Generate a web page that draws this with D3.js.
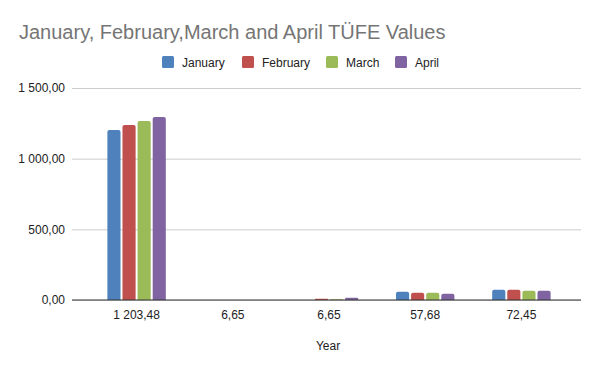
<!DOCTYPE html>
<html>
<head>
<meta charset="utf-8">
<script src="https://cdn.jsdelivr.net/npm/d3@7.9.0/dist/d3.min.js"></script>
<style>
  html, body { margin: 0; padding: 0; background: #fff; }
  svg { display: block; font-family: Arial, "Liberation Sans", sans-serif; }
</style>
</head>
<body>
<svg id="chart" width="600" height="371"></svg>
<script>
const categories = ["1 203,48", "6,65", "6,65", "57,68", "72,45"];
const seriesNames = ["January", "February", "March", "April"];
const january = [1203.48, 0, 0, 57.68, 72.45];
const february = [1238, 0, 8, 52, 73];
const march = [1266, 0, 6, 51, 66];
const april = [1295, 0, 16, 45, 66];
const yTicks = [0, 500, 1000, 1500];
const colors = ["#4f81bd", "#c0504d", "#9bbb59", "#8064a2"];

const series = [january, february, march, april];
const plotLeft = 72, plotRight = 581, plotTop = 88, plotBottom = 300;

const svg = d3.select("#chart");

const x = d3.scaleBand().domain(d3.range(categories.length)).range([88.5, 569.5]);
const xInner = d3.scaleBand().domain(d3.range(series.length))
  .range([0, x.bandwidth()]).paddingInner(0.13).paddingOuter(1.25);
const y = d3.scaleLinear().domain([0, 1500]).range([plotBottom, plotTop]);

const fmt = v => d3.format(",.2f")(v).replace(/,/g, " ").replace(".", ",");

// title
svg.append("text")
  .attr("x", 19).attr("y", 38.5)
  .attr("font-size", 20).attr("fill", "#757575")
  .text("January, February,March and April TÜFE Values");

// legend
const legendX = [162, 242, 326, 395];
const lg = svg.append("g");
seriesNames.forEach((name, i) => {
  lg.append("rect").attr("x", legendX[i]).attr("y", 56).attr("width", 12).attr("height", 12)
    .attr("rx", 1.5).attr("fill", colors[i]);
  lg.append("text").attr("x", legendX[i] + 20).attr("y", 66.5)
    .attr("font-size", 12).attr("fill", "#222").text(name);
});

// grid + y labels
const yAxis = d3.axisLeft(y).tickValues(yTicks).tickSize(-(plotRight - plotLeft)).tickFormat(fmt).tickPadding(7);
const gy = svg.append("g").attr("transform", `translate(${plotLeft},0)`).call(yAxis);
gy.select(".domain").remove();
gy.selectAll(".tick line").attr("stroke", "#cccccc");
gy.selectAll(".tick text").attr("font-size", 12).attr("fill", "#222")
  .attr("font-family", "Arial, 'Liberation Sans', sans-serif");

// bars with rounded tops
function barPath(x0, w, y0, y1) {
  const r = Math.min(2, (y1 - y0) / 2, w / 2);
  return `M${x0},${y1}V${y0 + r}Q${x0},${y0} ${x0 + r},${y0}H${x0 + w - r}Q${x0 + w},${y0} ${x0 + w},${y0 + r}V${y1}Z`;
}
const groups = svg.append("g").selectAll("g").data(categories).join("g")
  .attr("transform", (d, i) => `translate(${x(i)},0)`);
groups.selectAll("path")
  .data((d, i) => series.map((s, k) => ({ k, v: s[i] })))
  .join("path")
  .filter(d => d.v > 0)
  .attr("fill", d => colors[d.k])
  .attr("d", d => barPath(xInner(d.k), xInner.bandwidth(), y(d.v), y(0)));

// baseline
svg.append("line").attr("x1", plotLeft).attr("x2", plotRight).attr("y1", y(0)).attr("y2", y(0))
  .attr("stroke", "#333").attr("stroke-width", 1);

// x labels
const xAxis = d3.axisBottom(x).tickFormat(i => categories[i]).tickSize(0).tickPadding(10);
const gx = svg.append("g").attr("transform", `translate(0,${plotBottom})`).call(xAxis);
gx.select(".domain").remove();
gx.selectAll(".tick text").attr("font-size", 12).attr("fill", "#222")
  .attr("font-family", "Arial, 'Liberation Sans', sans-serif");

// axis title
svg.append("text").attr("x", 328).attr("y", 350).attr("text-anchor", "middle")
  .attr("font-size", 12).attr("fill", "#222").text("Year");
</script>
</body>
</html>
